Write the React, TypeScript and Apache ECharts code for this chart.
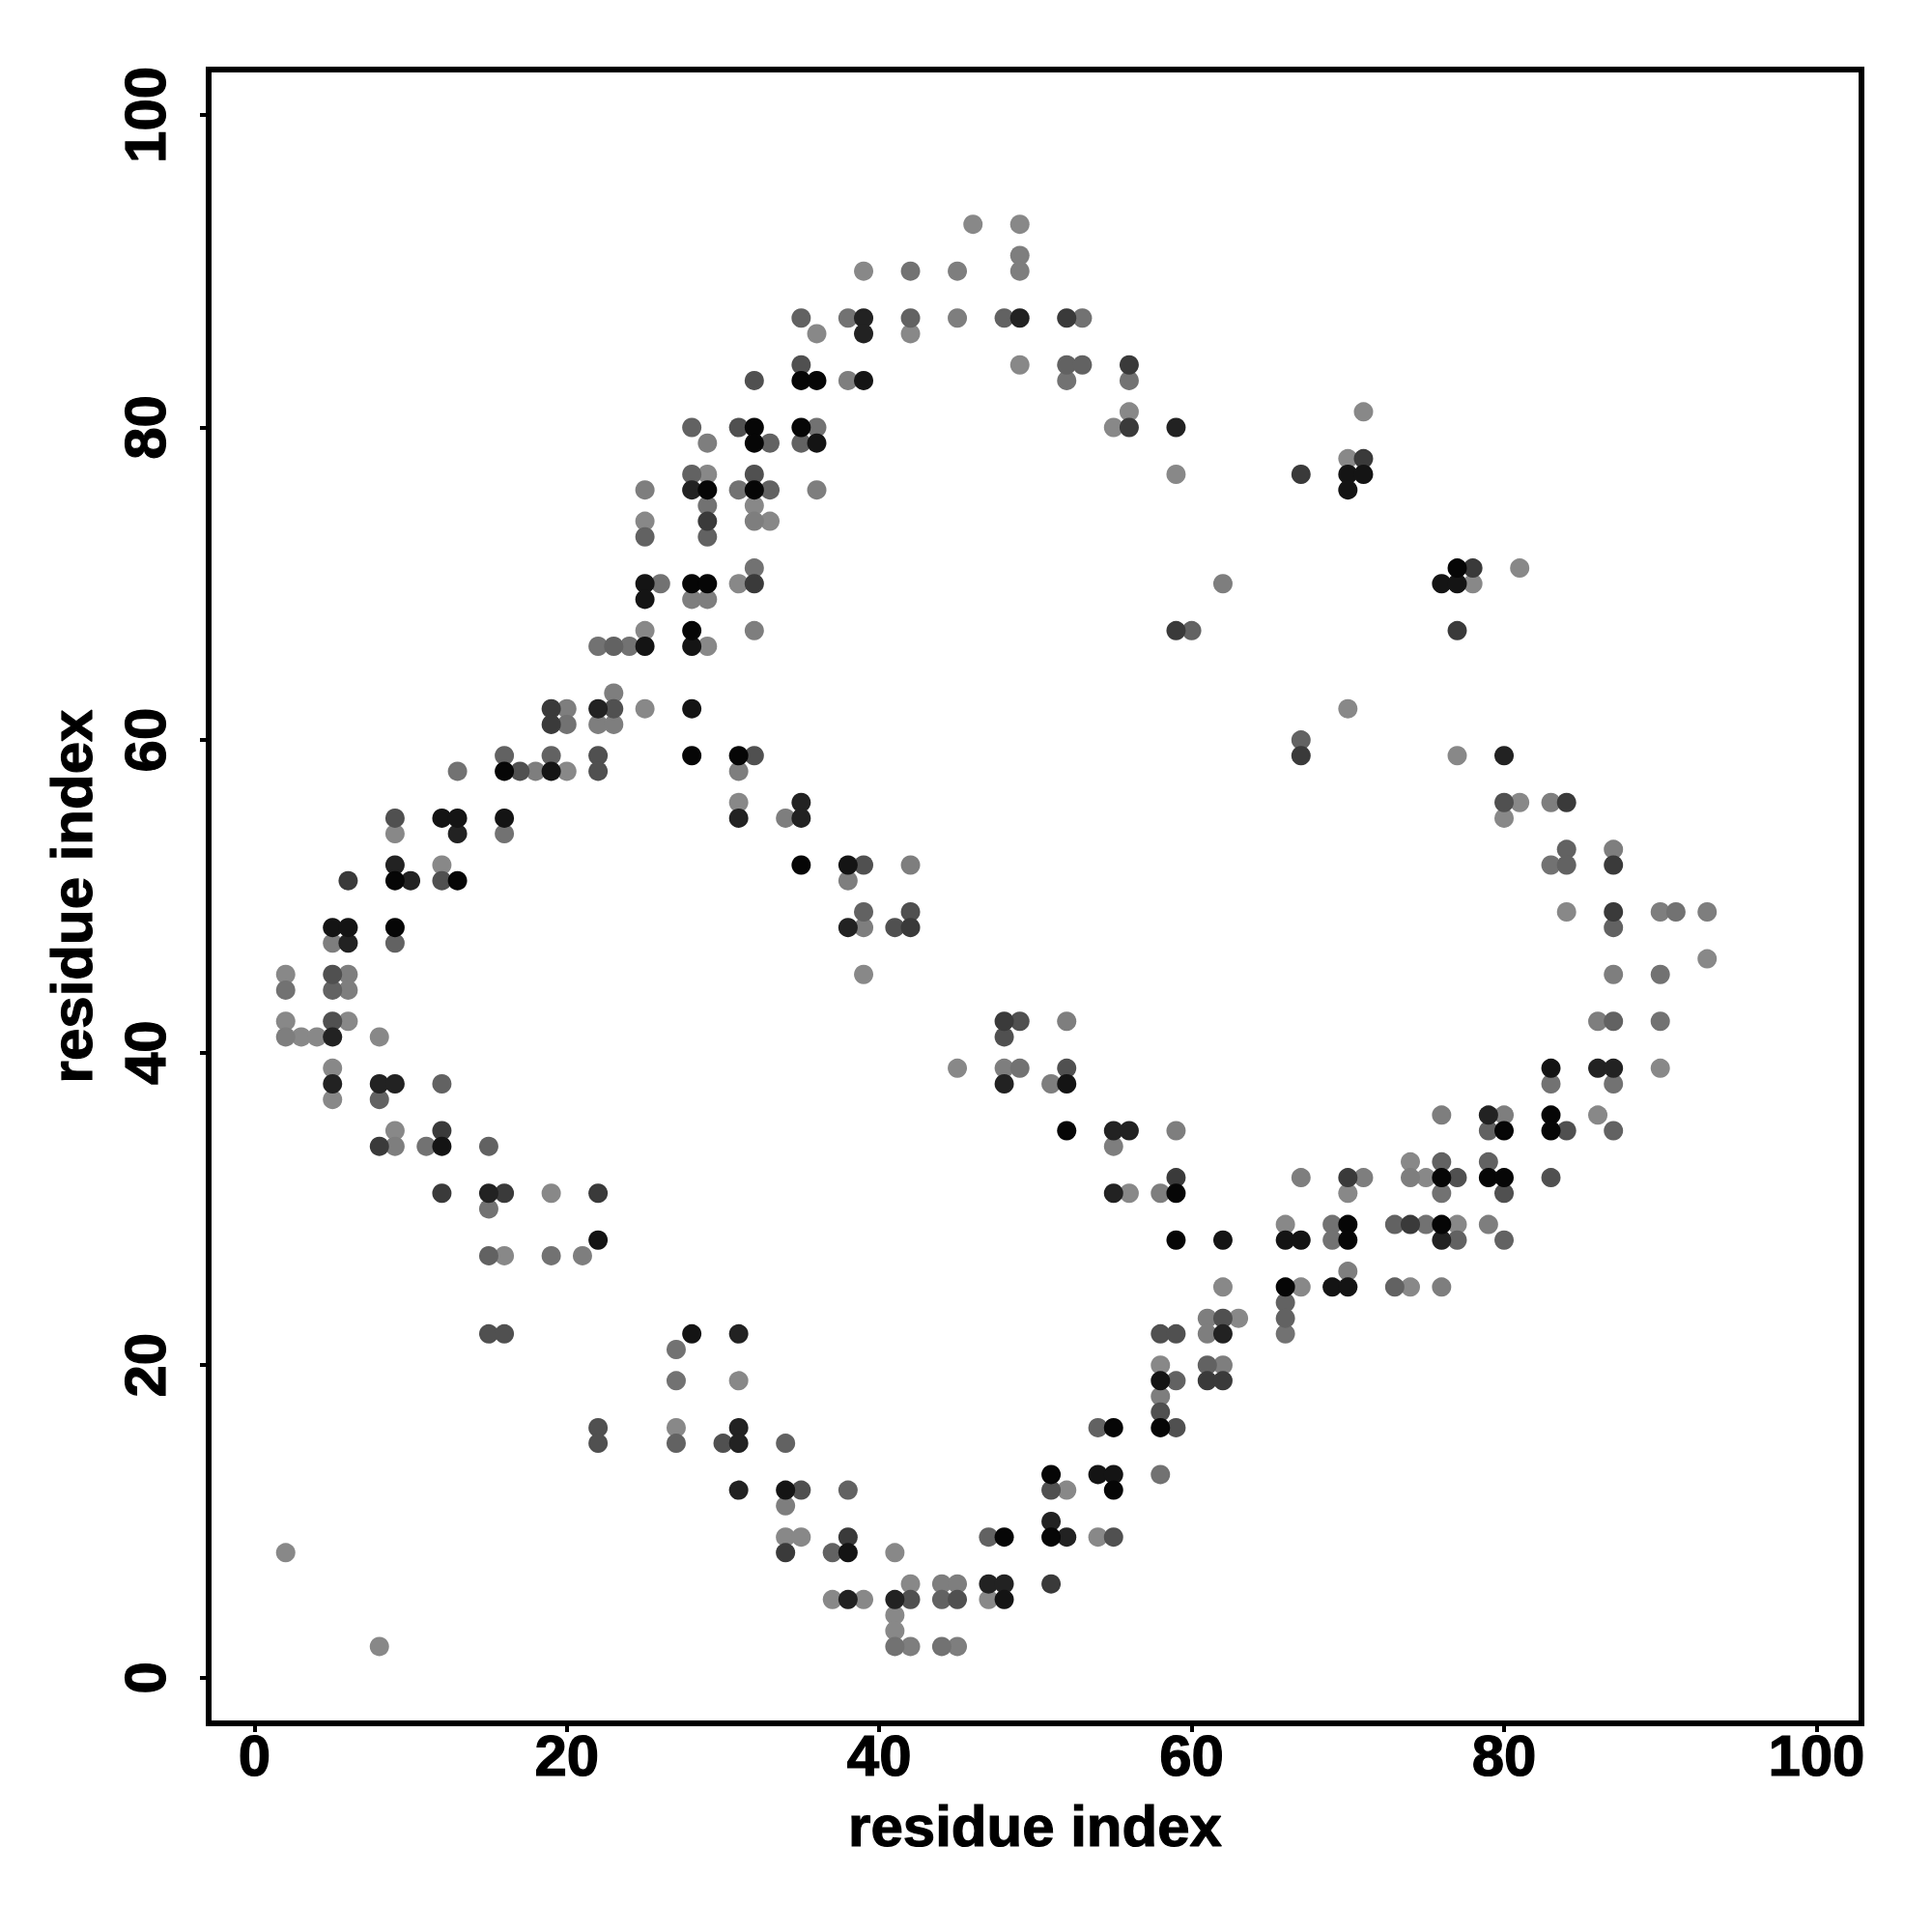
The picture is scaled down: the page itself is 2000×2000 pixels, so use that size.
import React, { useEffect, useRef } from "react";
import * as echarts from "echarts";

const tickValues = [0, 20, 40, 60, 80, 100];
const axisName = "residue index";

const shade88 = [[46,93],[49,93],[39,90],[36,86],[42,86],[49,84],[56,81],[71,81],[55,80],[70,78],[29,77],[59,77],[32,75],[25,74],[33,74],[81,71],[31,70],[78,70],[25,67],[29,66],[25,62],[70,62],[77,59],[20,58],[31,56],[81,56],[80,55],[9,54],[12,52],[84,49],[93,46],[2,45],[39,45],[2,42],[6,42],[3,41],[4,41],[8,41],[5,39],[45,39],[90,39],[5,37],[86,36],[9,35],[74,33],[75,32],[19,31],[56,31],[70,31],[66,29],[77,29],[16,27],[62,25],[67,25],[74,25],[63,23],[58,20],[31,19],[27,16],[52,12],[34,9],[35,9],[54,9],[2,8],[41,8],[42,6],[37,5],[39,5],[47,5],[41,4],[41,3],[8,2]];
const shade80 = [[49,91],[45,90],[49,90],[45,87],[38,83],[29,79],[25,76],[36,76],[32,74],[62,70],[28,69],[29,69],[32,67],[23,63],[20,62],[22,61],[23,61],[18,58],[31,58],[83,56],[34,55],[87,53],[42,52],[38,51],[90,49],[93,49],[39,48],[5,47],[6,45],[87,45],[6,44],[52,42],[86,42],[2,41],[48,39],[51,38],[76,36],[80,36],[59,35],[9,34],[55,34],[67,32],[71,32],[74,32],[58,31],[79,29],[21,27],[70,26],[76,25],[61,23],[61,22],[62,20],[58,18],[34,11],[44,6],[45,6],[42,2],[45,2]];
const shade72 = [[42,90],[38,87],[53,87],[52,83],[56,83],[36,80],[31,76],[29,75],[32,71],[26,70],[22,66],[24,66],[20,61],[13,58],[16,54],[83,52],[91,49],[90,45],[2,44],[90,42],[49,39],[83,38],[87,38],[11,34],[76,31],[15,30],[69,29],[75,29],[69,28],[19,27],[66,22],[27,21],[27,19],[58,13],[41,2],[44,2]];
const shade62 = [[35,87],[42,87],[48,87],[52,84],[53,84],[28,80],[33,79],[35,79],[28,77],[33,76],[25,73],[29,73],[60,67],[23,66],[67,60],[16,59],[19,59],[84,53],[84,52],[39,49],[87,48],[9,47],[5,44],[87,42],[12,38],[8,37],[79,35],[87,35],[15,34],[76,33],[79,33],[73,29],[77,28],[80,28],[15,27],[73,25],[66,24],[66,23],[61,20],[59,19],[54,16],[27,15],[34,15],[38,12],[47,9],[37,8],[44,5]];
const shade50 = [[35,84],[32,83],[31,80],[32,77],[23,62],[22,59],[32,59],[17,58],[22,58],[80,56],[9,55],[39,52],[12,51],[42,49],[41,48],[5,45],[5,42],[49,42],[48,41],[52,39],[84,35],[77,32],[83,32],[80,31],[62,23],[15,22],[16,22],[58,22],[59,22],[58,17],[22,16],[59,16],[22,15],[30,15],[35,12],[51,12],[55,9],[42,5],[45,5]];
const shade3a = [[52,87],[56,84],[56,80],[71,78],[67,77],[29,74],[78,71],[32,70],[59,67],[77,67],[19,62],[19,61],[67,59],[84,56],[87,52],[6,51],[87,49],[42,48],[48,42],[12,35],[8,34],[59,32],[70,32],[12,31],[16,31],[22,31],[74,29],[61,19],[62,19],[38,9],[34,8],[51,6]];
const shade22 = [[39,87],[49,87],[39,86],[59,80],[28,76],[22,62],[80,59],[35,56],[31,55],[35,55],[13,54],[9,52],[10,51],[38,48],[6,47],[5,41],[86,39],[87,39],[5,38],[8,38],[9,38],[48,38],[79,36],[55,35],[56,35],[15,31],[55,31],[76,28],[31,22],[62,22],[31,16],[31,15],[31,12],[51,10],[52,9],[47,6],[48,6],[38,5],[41,5]];
const shade14 = [[39,83],[36,79],[70,77],[71,77],[70,76],[25,70],[76,70],[77,70],[25,69],[25,66],[28,66],[28,62],[19,58],[12,55],[13,55],[16,55],[38,52],[5,48],[6,48],[83,39],[52,38],[12,34],[22,28],[62,28],[66,28],[67,28],[69,25],[70,25],[28,22],[58,19],[54,13],[55,13],[34,12],[38,8],[48,5]];
const shade05 = [[35,83],[36,83],[32,80],[35,80],[32,79],[29,76],[32,76],[77,71],[28,70],[29,70],[28,67],[28,59],[31,59],[16,58],[35,52],[9,51],[13,51],[9,48],[83,36],[52,35],[80,35],[83,35],[76,32],[79,32],[80,32],[59,31],[70,29],[76,29],[59,28],[70,28],[66,25],[55,16],[58,16],[51,13],[55,12],[48,9],[51,9]];

const layers: [string, number[][]][] = [
  ["#888888", shade88],
  ["#7e7e7e", shade80],
  ["#727272", shade72],
  ["#626262", shade62],
  ["#505050", shade50],
  ["#3a3a3a", shade3a],
  ["#222222", shade22],
  ["#141414", shade14],
  ["#060606", shade05],
];

const FONT = "Liberation Sans";

export default function App() {
  const ref = useRef<HTMLDivElement>(null);
  useEffect(() => {
    const chart = echarts.init(ref.current!, undefined, { renderer: "svg" });
    const textStyle = {
      fontFamily: FONT,
      fontWeight: "bold" as const,
      fontSize: 60,
      color: "#000",
      textBorderColor: "#000",
      textBorderWidth: 1.2,
    };
    const axisCommon = {
      type: "value" as const,
      name: axisName,
      nameLocation: "middle" as const,
      nameMoveOverlap: false,
      nameTextStyle: textStyle,
      splitLine: { show: false },
      axisLine: { show: false, onZero: false },
      axisTick: { show: true, length: 9, lineStyle: { color: "#000", width: 4 }, customValues: tickValues },
    };
    chart.setOption({
      animation: false,
      backgroundColor: "#fff",
      grid: {
        left: 216,
        top: 72,
        width: 1711,
        height: 1712,
        show: true,
        borderColor: "#000",
        borderWidth: 6,
        backgroundColor: "#fff",
      },
      xAxis: {
        ...axisCommon,
        min: -2.93,
        max: 102.88,
        nameGap: 76,
        axisLabel: { ...textStyle, customValues: tickValues, margin: 3, hideOverlap: false },
      },
      yAxis: {
        ...axisCommon,
        min: -2.92,
        max: 102.9,
        nameGap: 112,
        nameRotate: 90,
        axisLabel: { ...textStyle, customValues: tickValues, margin: 36, rotate: 90, hideOverlap: false },
      },
      series: layers.map(([color, points]) => ({
        type: "scatter",
        symbol: "circle",
        symbolSize: 20,
        data: points,
        itemStyle: { color, opacity: 1 },
        silent: true,
      })),
    });
    return () => chart.dispose();
  }, []);
  return (
    <div
      ref={ref}
      style={{ position: "absolute", left: 0, top: 0, width: 2000, height: 2000 }}
    />
  );
}
